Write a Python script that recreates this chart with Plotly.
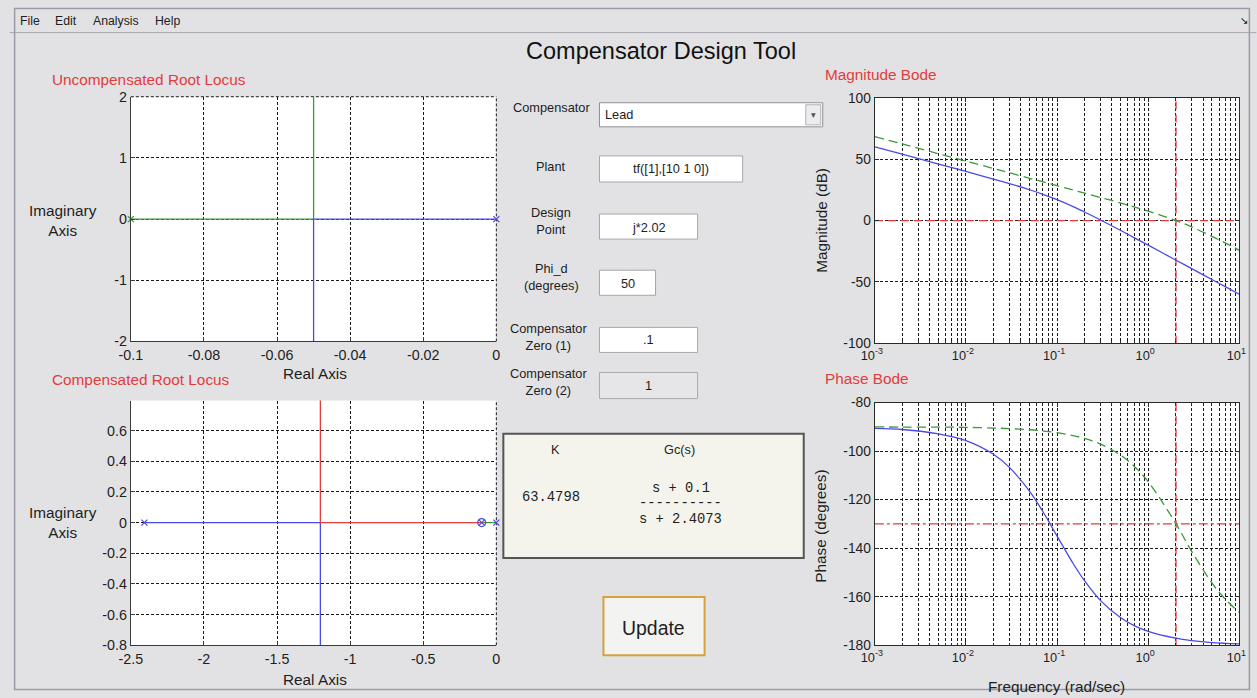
import plotly.graph_objects as go

W, H = 1257, 698
# the photographed page is framed slightly wider than the figure; layout positions
# below are given in reference-picture pixels and mapped back into the figure
AX, BX = 0.982, 11.3
AY, BY = 0.9744, 8.5
FS = 1.0 / 0.978


def fx(x):
    return ((x - BX) / AX) / W


def fy(y):
    return 1 - ((y - BY) / AY) / H


def fs(s):
    return round(s * FS, 2)


SANS = "Liberation Sans, Arial, sans-serif"
MONO = "Liberation Mono, Courier New, monospace"
BG = "#e2e2e4"
BLUE = "#4a4ae6"
GREEN = "#3a9a3a"
RED = "#e23c3c"
GRID = "#1a1a1a"
TXT = "#1e1e1e"

# ---------------- data ----------------
# Uncompensated root locus (plant poles at 0 and -0.1)
ul_green_x = [-0.1, -0.05, -0.05]
ul_green_y = [0.0, 0.0, 2.0]
ul_blue_x = [0.0, -0.05, -0.05]
ul_blue_y = [0.0, 0.0, -2.0]
ul_pole_green = [-0.1]
ul_pole_blue = [0.0]

# Compensated root locus
cl_blue_x = [-2.4073, -1.2037, -1.2037]
cl_blue_y = [0.0, 0.0, -0.8]
cl_red_x = [-0.1, -1.2037, -1.2037]
cl_red_y = [0.0, 0.0, 0.8]
cl_green_x = [-0.1, 0.0]
cl_green_y = [0.0, 0.0]
cl_poles_x = [-2.4073, -0.1]
cl_zero_x = [-0.1]
cl_pole_origin = [0.0]

# Bode data
freq = [0.001, 0.002, 0.005, 0.01, 0.02, 0.03, 0.05, 0.07, 0.1, 0.15,
        0.2, 0.3, 0.5, 0.7, 1.0, 2.0, 3.0, 5.0, 7.0, 10.0]
mag_plant = [60.0, 54.0, 46.0, 40.0, 33.8, 30.1, 25.1, 21.4, 17.0, 11.4,
             7.0, 0.5, -8.1, -13.9, -20.0, -32.1, -39.1, -48.0, -53.8, -60.0]
mag_comp = [68.4, 62.4, 54.4, 48.4, 42.4, 38.9, 34.4, 31.6, 28.4, 24.9,
            22.4, 18.8, 14.3, 11.2, 7.7, 0.1, -5.2, -12.8, -18.2, -24.2]
phase_plant = [-90.6, -91.1, -92.9, -95.7, -101.3, -106.7, -116.6, -125.0, -135.0, -146.3,
               -153.4, -161.6, -168.7, -171.9, -174.3, -177.1, -178.1, -178.9, -179.2, -179.4]
phase_comp = [-90.0, -90.1, -90.1, -90.2, -90.5, -90.7, -91.2, -91.7, -92.4, -93.6,
              -94.8, -97.1, -101.7, -106.2, -112.6, -129.7, -141.3, -154.3, -161.0, -166.5]

design_w = 2.02
phi_d = 50
phase_ref = -180 + phi_d
K_gain = "63.4798"
gc_num = "s + 0.1"
gc_den = "s + 2.4073"

rl1_xticks = [-0.1, -0.08, -0.06, -0.04, -0.02, 0]
rl1_xtext = ["-0.1", "-0.08", "-0.06", "-0.04", "-0.02", "0"]
rl1_yticks = [-2, -1, 0, 1, 2]
rl1_ytext = ["-2", "-1", "0", "1", "2"]
rl2_xticks = [-2.5, -2, -1.5, -1, -0.5, 0]
rl2_xtext = ["-2.5", "-2", "-1.5", "-1", "-0.5", "0"]
rl2_yticks = [-0.8, -0.6, -0.4, -0.2, 0, 0.2, 0.4, 0.6]
rl2_ytext = ["-0.8", "-0.6", "-0.4", "-0.2", "0", "0.2", "0.4", "0.6"]
bode_xticks = [0.001, 0.01, 0.1, 1, 10]
bode_xtext = ["10<sup>-3</sup>", "10<sup>-2</sup>", "10<sup>-1</sup>",
              "10<sup>0</sup>", "10<sup>1</sup>"]
mag_yticks = [-100, -50, 0, 50, 100]
mag_ytext = ["-100", "-50", "0", "50", "100"]
phase_yticks = [-180, -160, -140, -120, -100, -80]
phase_ytext = ["-180", "-160", "-140", "-120", "-100", "-80"]
bode_minor = [m * 10 ** e for e in range(-3, 1) for m in range(2, 10)]

fig = go.Figure()


def line(x, y, color, xa, ya, dash="solid", shape="linear", width=1.3):
    fig.add_trace(go.Scatter(x=x, y=y, mode="lines", xaxis=xa, yaxis=ya,
                             line=dict(color=color, width=width, dash=dash, shape=shape),
                             showlegend=False, hoverinfo="skip"))


def marks(x, y, color, xa, ya, symbol="x-thin", size=6):
    fig.add_trace(go.Scatter(x=x, y=y, mode="markers", xaxis=xa, yaxis=ya,
                             marker=dict(symbol=symbol, size=size, color=color,
                                         line=dict(color=color, width=1.2)),
                             showlegend=False, hoverinfo="skip", cliponaxis=False))


# Plot 1
line(ul_green_x, ul_green_y, GREEN, "x", "y")
line(ul_blue_x, ul_blue_y, BLUE, "x", "y")
marks(ul_pole_green, [0] * len(ul_pole_green), GREEN, "x", "y")
marks(ul_pole_blue, [0] * len(ul_pole_blue), BLUE, "x", "y")

# Plot 2
line(cl_blue_x, cl_blue_y, BLUE, "x2", "y2")
line(cl_red_x, cl_red_y, RED, "x2", "y2")
line(cl_green_x, cl_green_y, GREEN, "x2", "y2")
marks(cl_poles_x, [0] * len(cl_poles_x), BLUE, "x2", "y2")
marks(cl_zero_x, [0] * len(cl_zero_x), BLUE, "x2", "y2", symbol="circle-open", size=8)
marks(cl_pole_origin, [0], BLUE, "x2", "y2")

# Magnitude Bode
line([freq[0], freq[-1]], [0, 0], RED, "x3", "y3", dash="8px,5px")
line([design_w, design_w], [-100, 100], RED, "x3", "y3", dash="8px,5px")
line(freq, mag_comp, GREEN, "x3", "y3", dash="9px,5px", shape="spline")
line(freq, mag_plant, BLUE, "x3", "y3", shape="spline")

# Phase Bode
line([freq[0], freq[-1]], [phase_ref, phase_ref], RED, "x4", "y4", dash="dashdot")
line([design_w, design_w], [-180, -80], RED, "x4", "y4", dash="8px,5px")
line(freq, phase_comp, GREEN, "x4", "y4", dash="9px,5px", shape="spline")
line(freq, phase_plant, BLUE, "x4", "y4", shape="spline")

rl_font = dict(family=SANS, size=fs(14), color=TXT)
bode_yfont = dict(family=SANS, size=fs(13.5), color=TXT)
bode_xfont = dict(family=SANS, size=fs(12.5), color=TXT)
griddash = "3px,2px"


def rl_axis(dom, anchor, rng, tv, tt):
    return dict(domain=dom, anchor=anchor, range=rng, tickvals=tv, ticktext=tt,
                showgrid=True, gridcolor=GRID, griddash=griddash, gridwidth=1,
                zeroline=False, showline=True, linecolor="#3a3a3a", linewidth=1.2,
                mirror=False, ticks="inside", ticklen=4, tickcolor="#3a3a3a",
                tickfont=rl_font, fixedrange=True)


def bode_x(dom, anchor):
    return dict(domain=dom, anchor=anchor, type="log", range=[-3, 1],
                tickvals=bode_xticks, ticktext=bode_xtext, ticklabelshift=-3,
                showgrid=True, gridcolor=GRID, griddash=griddash, gridwidth=1,
                zeroline=False, showline=True, linecolor="#2a2a2a", linewidth=1.2,
                mirror="allticks", ticks="inside", ticklen=4, tickcolor="#2a2a2a",
                tickfont=bode_xfont, fixedrange=True,
                minor=dict(tickvals=bode_minor, showgrid=True, gridcolor=GRID,
                           griddash=griddash, gridwidth=1, ticks="inside",
                           ticklen=2, tickcolor="#2a2a2a"))


def bode_y(dom, anchor, rng, tv, tt):
    return dict(domain=dom, anchor=anchor, range=rng, tickvals=tv, ticktext=tt,
                showgrid=True, gridcolor=GRID, griddash=griddash, gridwidth=1,
                zeroline=False, showline=True, linecolor="#2a2a2a", linewidth=1.2,
                mirror="allticks", ticks="inside", ticklen=4, tickcolor="#2a2a2a",
                tickfont=bode_yfont, fixedrange=True)


fig.update_layout(
    width=W, height=H, margin=dict(l=0, r=0, t=0, b=0),
    paper_bgcolor=BG, plot_bgcolor="white", showlegend=False,
    xaxis=rl_axis([fx(128), fx(493)], "y", [-0.1, 0], rl1_xticks, rl1_xtext),
    yaxis=rl_axis([fy(341), fy(97)], "x", [-2, 2], rl1_yticks, rl1_ytext),
    xaxis2=rl_axis([fx(128), fx(493)], "y2", [-2.5, 0], rl2_xticks, rl2_xtext),
    yaxis2=rl_axis([fy(644), fy(400)], "x2", [-0.8, 0.796], rl2_yticks, rl2_ytext),
    xaxis3=bode_x([fx(871), fx(1235)], "y3"),
    yaxis3=bode_y([fy(343), fy(98)], "x3", [-100, 100], mag_yticks, mag_ytext),
    xaxis4=bode_x([fx(871), fx(1235)], "y4"),
    yaxis4=bode_y([fy(644), fy(402)], "x4", [-180, -80], phase_yticks, phase_ytext),
)

shapes = []


def rect(x0, y0, x1, y1, fill, lc=None, lw=1, layer="below"):
    shapes.append(dict(type="rect", xref="paper", yref="paper",
                       x0=fx(x0), x1=fx(x1), y0=fy(y1), y1=fy(y0),
                       fillcolor=fill, layer=layer,
                       line=dict(color=lc or fill, width=lw if lc else 0)))


def hline(x0, x1, y, color, width=1):
    shapes.append(dict(type="line", xref="paper", yref="paper",
                       x0=fx(x0), x1=fx(x1), y0=fy(y), y1=fy(y),
                       line=dict(color=color, width=width), layer="below"))


def edge_grid(xa, ya, side):
    # dotted grid line drawn along an open (box-off) edge of a root-locus axes
    xr, yr = xa + " domain", ya + " domain"
    if side == "top":
        d = dict(x0=0, x1=1, y0=1, y1=1)
    else:
        d = dict(x0=1, x1=1, y0=0, y1=1)
    shapes.append(dict(type="line", xref=xr, yref=yr, layer="below",
                       line=dict(color=GRID, width=1, dash=griddash), **d))


edge_grid("x", "y", "top")
edge_grid("x", "y", "right")
edge_grid("x2", "y2", "right")

# window frame at the figure edge, menu separator
shapes.append(dict(type="rect", xref="paper", yref="paper", x0=0.0005, x1=0.9995,
                   y0=0.0008, y1=0.9992, line=dict(color="#9a9aa8", width=1.5),
                   fillcolor="rgba(0,0,0,0)", layer="above"))
hline(7, 1252, 33, "#a8a8ae", 1)

# controls
rect(596, 103, 819, 127, "white", "#8f8f96")
rect(802, 105, 817, 125, "#ececee", "#b0b0b6")
rect(596, 156, 739, 182, "white", "#a6a6ac")
rect(596, 214, 694, 239, "white", "#a6a6ac")
rect(596, 270, 652, 295, "white", "#a6a6ac")
rect(596, 327, 694, 352, "white", "#a6a6ac")
rect(596, 372, 694, 398, "#e6e6e8", "#aaaaae")
rect(500, 433, 800, 557, "#f4f4ec", "#555555", 2)
rect(600, 596, 701, 654, "#f3f3f1", "#d6a23c", 2)

fig.update_layout(shapes=shapes)

anns = []


def ann(x, y, text, size=12.5, color=TXT, family=SANS, xanchor="center", angle=0):
    anns.append(dict(x=fx(x), y=fy(y), xref="paper", yref="paper", text=text,
                     showarrow=False, xanchor=xanchor, yanchor="middle",
                     textangle=angle, font=dict(family=family, size=fs(size), color=color)))


# menu
ann(15, 21, "File", size=12, xanchor="left")
ann(50, 21, "Edit", size=12, xanchor="left")
ann(88, 21, "Analysis", size=12, xanchor="left")
ann(150, 21, "Help", size=12, xanchor="left")
ann(1240, 21, "↘", size=10, color="#111111", family="DejaVu Sans")

ann(657, 51, "Compensator Design Tool", size=23, color="#111111")

# subplot titles
ann(47, 80, "Uncompensated Root Locus", size=15, color=RED, xanchor="left")
ann(47, 379, "Compensated Root Locus", size=15, color=RED, xanchor="left")
ann(819, 75, "Magnitude Bode", size=15, color=RED, xanchor="left")
ann(819, 378, "Phase Bode", size=15, color=RED, xanchor="left")

# axis labels
ann(60, 220, "Imaginary<br>Axis", size=15)
ann(312, 373, "Real Axis", size=15)
ann(60, 522, "Imaginary<br>Axis", size=15)
ann(312, 678, "Real Axis", size=15)
ann(817, 220, "Magnitude (dB)", size=15, angle=-90)
ann(817, 525, "Phase (degrees)", size=15, angle=-90)
ann(1052, 685, "Frequency (rad/sec)", size=15)

# control labels
ann(548, 108, "Compensator")
ann(548, 167, "Plant")
ann(548, 221, "Design<br>Point")
ann(548, 277, "Phi_d<br>(degrees)")
ann(545, 337, "Compensator<br>Zero (1)")
ann(545, 381, "Compensator<br>Zero (2)")

ann(600, 115, "Lead", xanchor="left")
ann(810, 115, "▾", size=9, color="#555555", family="DejaVu Sans")
ann(667, 169, "tf([1],[10 1 0])")
ann(645, 227, "j*2.02")
ann(624, 283, str(phi_d))
ann(645, 339, ".1")
ann(645, 385, "1")

# result panel
ann(552, 449, "K")
ann(676, 449, "Gc(s)")
ann(548, 497, K_gain, size=13.5, family=MONO)
ann(677, 488, gc_num, size=13.5, family=MONO)
ann(677, 503, "----------", size=13.5, family=MONO)
ann(677, 519, gc_den, size=13.5, family=MONO)

ann(650, 627, "Update", size=19)

fig.update_layout(annotations=anns)

post = (
    "document.documentElement.style.margin='0';"
    "document.documentElement.style.overflow='hidden';"
    "document.body.style.margin='0';document.body.style.overflow='hidden';"
    "var gd=document.getElementById('{plot_id}');"
    "gd.style.position='fixed';gd.style.left='0px';gd.style.top='0px';"
)
fig.write_html("out.html", config={"displayModeBar": False}, post_script=post)
